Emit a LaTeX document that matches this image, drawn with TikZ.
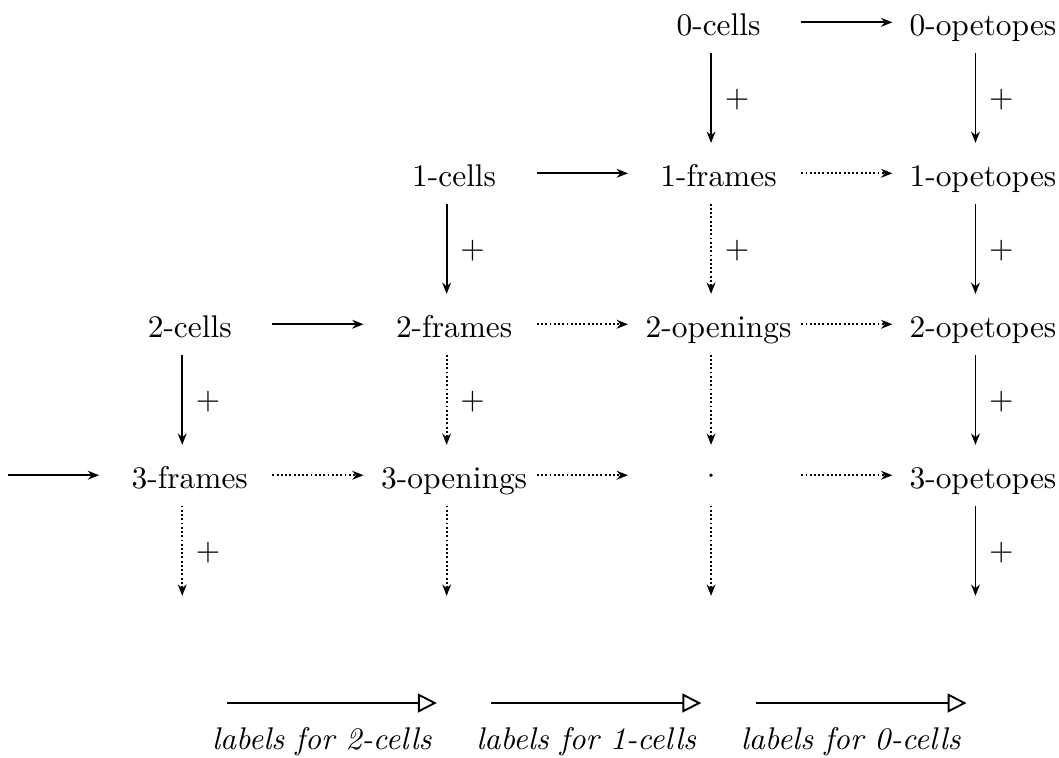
\documentclass[tikz,border=0pt]{standalone}
\usetikzlibrary{arrows.meta}
\begin{document}
\begin{tikzpicture}[
    ar/.style={-{Stealth[length=3.6pt,width=2.8pt]},line width=.6pt},
    dots/.style={dash pattern=on .6pt off .75pt},
    hor/.style={ar,shorten <=1.01cm,shorten >=.93cm},
    ver/.style={ar,shorten <=.34cm,shorten >=.34cm},
    obj/.style={anchor=base,inner sep=0pt,xshift=.084cm,yshift=-.146cm},
    pl/.style={midway,xshift=.29cm,yshift=-.02cm},
    leg/.style={-{Triangle[open,length=6pt,width=6pt]},line width=.6pt}]
  \useasboundingbox (0,0) rectangle (11.855,-8.485);
  % grid points p<column><row>
  \foreach \i/\x in {0/2.04,1/5.00,2/7.96,3/10.92}
    \foreach \j/\y in {0/-.25,1/-1.94,2/-3.63,3/-5.32,4/-7.01}
      \coordinate (p\i\j) at (\x,\y);
  \coordinate (in3) at (-.92,-5.32);

  \node[obj] (cell0) at (p20) {0-cells};
  \node[obj] (opet0) at (p30) {0-opetopes};
  \node[obj] (cell1) at (p11) {1-cells};
  \node[obj] (fram1) at (p21) {1-frames};
  \node[obj] (opet1) at (p31) {1-opetopes};
  \node[obj] (cell2) at (p02) {2-cells};
  \node[obj] (fram2) at (p12) {2-frames};
  \node[obj] (open2) at (p22) {2-openings};
  \node[obj] (opet2) at (p32) {2-opetopes};
  \node[obj] (fram3) at (p03) {3-frames};
  \node[obj] (open3) at (p13) {3-openings};
  \node[circle,fill,inner sep=0pt,minimum size=1.2pt] (dot3) at (p23) {};
  \node[obj] (opet3) at (p33) {3-opetopes};

  % horizontal
  \draw[hor] (p20) -- (p30);
  \draw[hor] (p11) -- (p21);
  \draw[hor,dots] (p21) -- (p31);
  \draw[hor] (p02) -- (p12);
  \draw[hor,dots] (p12) -- (p22);
  \draw[hor,dots] (p22) -- (p32);
  \draw[hor] (in3) -- (p03);
  \draw[hor,dots] (p03) -- (p13);
  \draw[hor,dots] (p13) -- (p23);
  \draw[hor,dots] (p23) -- (p33);

  % vertical
  \draw[ver] (p20) -- node[pl] (s20) {$+$} (p21);
  \draw[ver] (p30) -- node[pl] (s30) {$+$} (p31);
  \draw[ver] (p11) -- node[pl] (s11) {$+$} (p12);
  \draw[ver,dots] (p21) -- node[pl] (s21) {$+$} (p22);
  \draw[ver] (p31) -- node[pl] (s31) {$+$} (p32);
  \draw[ver] (p02) -- node[pl] (s02) {$+$} (p03);
  \draw[ver,dots] (p12) -- node[pl] (s12) {$+$} (p13);
  \draw[ver,dots] (p22) -- (p23);
  \draw[ver] (p32) -- node[pl] (s32) {$+$} (p33);
  \draw[ver,dots] (p03) -- node[pl] (s03) {$+$} (p04);
  \draw[ver,dots] (p13) -- (p14);
  \draw[ver,dots] (p23) -- (p24);
  \draw[ver] (p33) -- node[pl] (s33) {$+$} (p34);

  % legend
  \coordinate (a2) at (2.54,-7.87);  \coordinate (b2) at (4.89,-7.87);
  \coordinate (a1) at (5.50,-7.87);  \coordinate (b1) at (7.85,-7.87);
  \coordinate (a0) at (8.46,-7.87);  \coordinate (b0) at (10.82,-7.87);
  \draw[leg] (a2) -- (b2);
  \draw[leg] (a1) -- (b1);
  \draw[leg] (a0) -- (b0);
  \node[anchor=base] (lab2) at (3.604,-8.395) {\textit{labels for 2-cells}};
  \node[anchor=base] (lab1) at (6.564,-8.395) {\textit{labels for 1-cells}};
  \node[anchor=base] (lab0) at (9.524,-8.395) {\textit{labels for 0-cells}};
\end{tikzpicture}
\end{document}
